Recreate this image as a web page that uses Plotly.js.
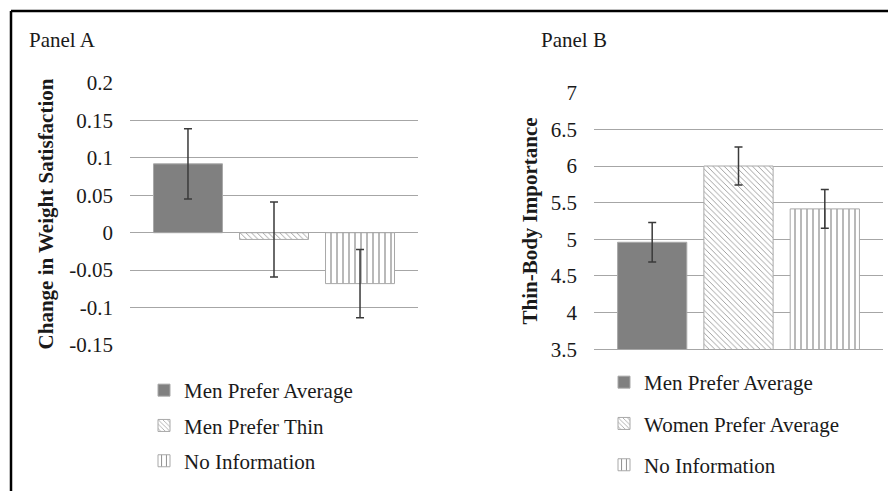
<!DOCTYPE html>
<html>
<head>
<meta charset="utf-8">
<script src="https://cdn.plot.ly/plotly-3.0.1.min.js"></script>
<style>html,body{margin:0;padding:0;background:#fff;}#chart{width:888px;height:491px;}</style>
</head>
<body>
<div id="chart"></div>
<script>
// ---- data ----
const seriesA = ['Men Prefer Average', 'Men Prefer Thin', 'No Information'];
const valuesA = [0.092, -0.009, -0.068];
const errorsA = [0.047, 0.05, 0.0455];
const tickValsA = [-0.15, -0.1, -0.05, 0, 0.05, 0.1, 0.15, 0.2];
const tickTextA = ['-0.15', '-0.1', '-0.05', '0', '0.05', '0.1', '0.15', '0.2'];

const seriesB = ['Men Prefer Average', 'Women Prefer Average', 'No Information'];
const valuesB = [4.96, 6.0, 5.415];
const errorsB = [0.27, 0.26, 0.265];
const tickValsB = [3.5, 4, 4.5, 5, 5.5, 6, 6.5, 7];
const tickTextB = ['3.5', '4', '4.5', '5', '5.5', '6', '6.5', '7'];

const titleA = 'Change in Weight Satisfaction';
const titleB = 'Thin-Body Importance';
const panelLabels = ['Panel A', 'Panel B'];

// ---- styles ----
const shapes = ['', '\\', '|'];
const sizes = [6, 4, 6];
const fills = ['#808080', '#ffffff', '#ffffff'];
const font = 'Liberation Serif';

function makeTraces(names, vals, errs, xa, ya, leg) {
  return names.map((n, i) => ({
    type: 'bar',
    name: n,
    x: ['c'],
    y: [vals[i]],
    xaxis: xa, yaxis: ya,
    legend: leg,
    legendgroup: leg + i,
    marker: {
      color: fills[i],
      line: {color: '#a8a8a8', width: 1},
      pattern: {shape: shapes[i], fgcolor: '#8a8a8a', bgcolor: '#ffffff', size: sizes[i], solidity: 0.2}
    },
    error_y: {type: 'data', array: [errs[i]], visible: true, color: '#3a3a3a', thickness: 1.5, width: 4},
    hoverinfo: 'skip'
  }));
}

const data = [
  ...makeTraces(seriesA, valuesA, errorsA, 'x', 'y', 'legend'),
  ...makeTraces(seriesB, valuesB, errorsB, 'x2', 'y2', 'legend2')
];

const H = 491, W = 888;
const px = v => v / W, py = v => 1 - v / H;

const yCommon = {
  showgrid: true, gridcolor: '#a6a6a6', gridwidth: 1,
  zeroline: false, showline: false, ticks: '',
  tickfont: {family: font, size: 21, color: '#1a1a1a'},
  ticklabelstandoff: 16,
  fixedrange: true
};

const layout = {
  width: W, height: H,
  margin: {l: 0, r: 0, t: 0, b: 0},
  paper_bgcolor: '#ffffff', plot_bgcolor: 'rgba(0,0,0,0)',
  barmode: 'group', bargap: 0.104, bargroupgap: 0.198,
  showlegend: true,
  font: {family: font, size: 21, color: '#1a1a1a'},
  xaxis: {domain: [px(130), px(418)], anchor: 'y', showticklabels: false, ticks: '', showgrid: false, zeroline: false, showline: false, fixedrange: true},
  yaxis: Object.assign({}, yCommon, {
    domain: [py(345), py(83)], anchor: 'x', range: [-0.15, 0.2],
    tickvals: tickValsA, ticktext: tickTextA,
    title: {text: titleA, font: {family: font, size: 21, color: '#1a1a1a', weight: 'bold'}, standoff: 9}
  }),
  xaxis2: {domain: [px(594), px(883)], anchor: 'y2', showticklabels: false, ticks: '', showgrid: false, zeroline: false, showline: true, linecolor: '#a6a6a6', linewidth: 1, fixedrange: true},
  yaxis2: Object.assign({}, yCommon, {
    domain: [py(349.3), py(92.7)], anchor: 'x2', range: [3.5, 7],
    tickvals: tickValsB, ticktext: tickTextB,
    title: {text: titleB, font: {family: font, size: 21, color: '#1a1a1a', weight: 'bold'}, standoff: 7}
  }),
  legend: {x: px(144), y: py(370), xanchor: 'left', yanchor: 'top', orientation: 'v', tracegroupgap: 5,
    font: {family: font, size: 21, color: '#1a1a1a'}, bgcolor: 'rgba(0,0,0,0)', itemclick: false, itemdoubleclick: false},
  legend2: {x: px(604), y: py(362), xanchor: 'left', yanchor: 'top', orientation: 'v', tracegroupgap: 11,
    font: {family: font, size: 21, color: '#1a1a1a'}, bgcolor: 'rgba(0,0,0,0)', itemclick: false, itemdoubleclick: false},
  annotations: [
    {text: panelLabels[0], xref: 'paper', yref: 'paper', x: px(27), y: py(40), xanchor: 'left', yanchor: 'middle', showarrow: false, font: {family: font, size: 21, color: '#1a1a1a'}},
    {text: panelLabels[1], xref: 'paper', yref: 'paper', x: px(539), y: py(40), xanchor: 'left', yanchor: 'middle', showarrow: false, font: {family: font, size: 21, color: '#1a1a1a'}}
  ],
  shapes: [
    {type: 'line', xref: 'paper', yref: 'paper', x0: px(11), x1: px(11), y0: 0, y1: py(11), line: {color: '#000', width: 2.5}},
    {type: 'line', xref: 'paper', yref: 'paper', x0: px(11), x1: 1, y0: py(11), y1: py(11), line: {color: '#000', width: 2.5}}
  ]
};

Plotly.newPlot('chart', data, layout, {staticPlot: true, displayModeBar: false});
</script>
</body>
</html>
